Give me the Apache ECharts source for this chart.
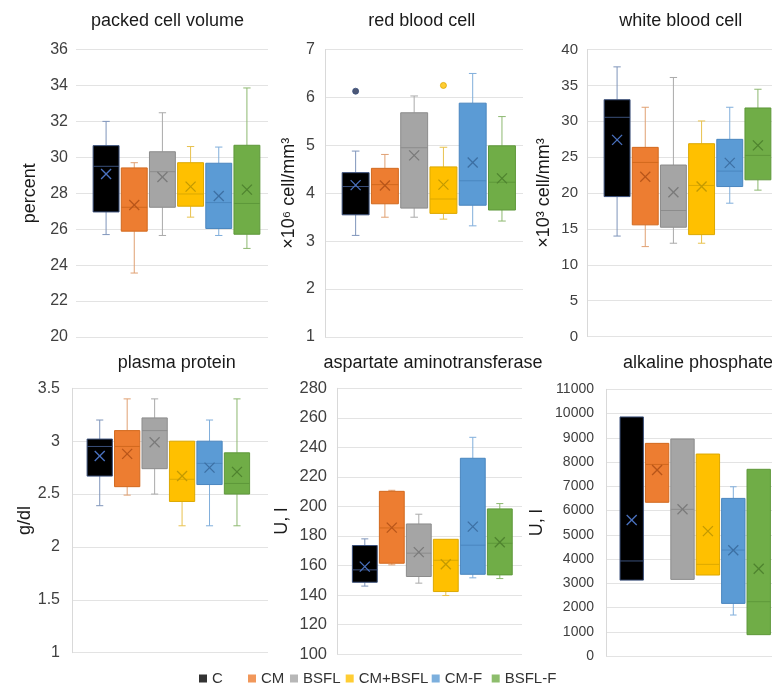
<!DOCTYPE html>
<html>
<head>
<meta charset="utf-8">
<script src="https://cdn.jsdelivr.net/npm/echarts@6/dist/echarts.min.js"></script>
<style>
html, body { margin: 0; padding: 0; background: #fff; }
#chart { width: 772px; height: 688px; }
</style>
</head>
<body>
<div id="chart"></div>
<script>
const groups = ['C', 'CM', 'BSFL', 'CM+BSFL', 'CM-F', 'BSFL-F'];

// each row: [min, Q1, median, Q3, max]
const pcvBox = [
  [25.7, 26.96, 29.5, 30.65, 32.0],
  [23.56, 25.89, 27.22, 29.41, 29.7],
  [25.65, 27.22, 29.2, 30.31, 32.48],
  [26.67, 27.28, 27.96, 29.7, 30.6],
  [25.65, 26.04, 27.48, 29.67, 30.57],
  [24.93, 25.72, 27.43, 30.67, 33.86]
];
const pcvMean = [29.07, 27.35, 28.9, 28.37, 27.85, 28.2];

const rbcBox = [
  [3.12, 3.55, 4.14, 4.43, 4.88],
  [3.5, 3.78, 4.18, 4.52, 4.81],
  [3.5, 3.69, 4.95, 5.68, 6.03],
  [3.46, 3.58, 3.88, 4.55, 4.96],
  [3.32, 3.75, 4.26, 5.88, 6.5],
  [3.42, 3.65, 4.23, 4.99, 5.6]
];
const rbcMean = [4.17, 4.16, 4.79, 4.18, 4.64, 4.31];
const rbcOutliers = [[0, 6.13], [3, 6.25]];

const wbcBox = [
  [14.0, 19.5, 30.55, 33.0, 37.58],
  [12.53, 15.56, 24.26, 26.36, 31.95],
  [13.0, 15.23, 17.56, 23.9, 36.1],
  [13.0, 14.2, 21.05, 26.87, 30.04],
  [18.58, 20.9, 23.05, 27.48, 31.95],
  [20.4, 21.84, 25.24, 31.85, 34.46]
];
const wbcMean = [27.4, 22.26, 20.1, 20.9, 24.2, 26.64];

const ppBox = [
  [2.39, 2.67, 2.95, 3.02, 3.2],
  [2.49, 2.57, 2.95, 3.1, 3.4],
  [2.5, 2.74, 3.1, 3.22, 3.4],
  [2.2, 2.43, 2.64, 3.0, 3.0],
  [2.2, 2.59, 2.79, 3.0, 3.2],
  [2.2, 2.5, 2.6, 2.89, 3.4]
];
const ppMean = [2.86, 2.88, 2.99, 2.67, 2.75, 2.71];

const astBox = [
  [146, 148.6, 157, 173.5, 178],
  [160.4, 161.5, 185.4, 210.2, 210.9],
  [148, 152.5, 168.3, 188.1, 194.7],
  [139.6, 142.3, 163.5, 177.7, 178],
  [151.6, 154, 173.7, 232.6, 246.8],
  [151.1, 153.6, 175, 198.3, 201.9]
];
const astMean = [159.2, 185.6, 169, 160.8, 186.3, 175.7];

const alpBox = [
  [3130, 3130, 3920, 9860, 9860],
  [6340, 6340, 7900, 8770, 8770],
  [3160, 3160, 6050, 8950, 8950],
  [3340, 3340, 3780, 8330, 8330],
  [1690, 2170, 4370, 6500, 6980],
  [880, 880, 2240, 7700, 7700]
];
const alpMean = [5610, 7670, 6050, 5150, 4360, 3600];

const titles = ['packed cell volume', 'red blood cell', 'white blood cell',
  'plasma protein', 'aspartate aminotransferase', 'alkaline phosphate'];
const units = ['percent', '×10⁶ cell/mm³', '×10³ cell/mm³', 'g/dl', 'U, l', 'U, l'];
const yMin = [20, 1, 0, 1, 100, 0];
const yMax = [36, 7, 40, 3.5, 280, 11000];
const yStep = [2, 1, 5, 0.5, 20, 1000];

const boxes = [pcvBox, rbcBox, wbcBox, ppBox, astBox, alpBox];
const means = [pcvMean, rbcMean, wbcMean, ppMean, astMean, alpMean];
const outliers = [[], rbcOutliers, [], [], [], []];

// colours: box fill, box edge / median, whisker, mean cross
const fillColors = ['#000000', '#ED7D31', '#A5A5A5', '#FFC000', '#5B9BD5', '#70AD47'];
const edgeColors = ['#3a4f7a', '#d2691e', '#8c8c8c', '#dca800', '#4a86bf', '#5e983a'];
const whiskerColors = ['#7f95bb', '#e0a072', '#aaaaaa', '#e8c24e', '#80aedb', '#8db870'];
const meanColors = ['#4a72c0', '#b8561a', '#7a7a7a', '#c49a00', '#3d70a3', '#4f832f'];

// layout (pixels)
const gridTop = [49.5, 49.5, 49.5, 388.3, 388.3, 389.3];
const gridHeight = [287.5, 287.5, 287, 264.4, 265.7, 266.7];
const frameLeft = [76, 325, 587, 72, 337, 606];
const frameWidth = [192, 198, 185, 196, 185, 166];
const boxLeft = [92, 341, 603, 86, 351.3, 619];
const boxWidth = [169, 175.6, 169, 164.7, 162, 152.4];
const labelSize = [16, 16, 15, 16, 16.5, 14];
const labelMargin = [8, 10, 9, 12, 10, 12];
const nameGap = [37, 27, 34, 37, 46, 60];
const axisLineShow = [false, true, true, true, true, true];
const titlePos = [[167.5, 21], [421.7, 21], [680.8, 21], [176.7, 363], [433, 363], [698, 363]];
const legendLeft = [199, 248, 290, 345.7, 431.7, 491.7];

const FONT = '"Liberation Sans", Arial, Helvetica, sans-serif';

function renderBox(params, api) {
  const i = api.value(0);
  const x = api.coord([i, 0])[0];
  const band = api.size([1, 0])[0];
  const hw = band * 0.46;
  const cw = band * 0.13;
  const py = k => api.coord([i, api.value(k)])[1];
  const yLo = py(1), yQ1 = py(2), yMed = py(3), yQ3 = py(4), yHi = py(5), yMean = py(6);
  const wStyle = { stroke: whiskerColors[i], lineWidth: 1 };
  const kids = [];
  if (yHi < yQ3 - 0.5) {
    kids.push({ type: 'line', shape: { x1: x, y1: yHi, x2: x, y2: yQ3 }, style: wStyle });
    kids.push({ type: 'line', shape: { x1: x - cw, y1: yHi, x2: x + cw, y2: yHi }, style: wStyle });
  }
  if (yLo > yQ1 + 0.5) {
    kids.push({ type: 'line', shape: { x1: x, y1: yQ1, x2: x, y2: yLo }, style: wStyle });
    kids.push({ type: 'line', shape: { x1: x - cw, y1: yLo, x2: x + cw, y2: yLo }, style: wStyle });
  }
  kids.push({
    type: 'rect',
    shape: { x: x - hw, y: yQ3, width: hw * 2, height: yQ1 - yQ3 },
    style: { fill: fillColors[i], stroke: edgeColors[i], lineWidth: 1 }
  });
  kids.push({
    type: 'line', shape: { x1: x - hw, y1: yMed, x2: x + hw, y2: yMed },
    style: { stroke: edgeColors[i], lineWidth: 1 }
  });
  const m = 5;
  const mStyle = { stroke: meanColors[i], lineWidth: 1.3 };
  kids.push({ type: 'line', shape: { x1: x - m, y1: yMean - m, x2: x + m, y2: yMean + m }, style: mStyle });
  kids.push({ type: 'line', shape: { x1: x - m, y1: yMean + m, x2: x + m, y2: yMean - m }, style: mStyle });
  return { type: 'group', children: kids };
}

const grid = [], xAxis = [], yAxis = [], series = [], graphic = [];

for (let p = 0; p < 6; p++) {
  const frame = p * 2, inner = p * 2 + 1;
  grid.push({ left: frameLeft[p], top: gridTop[p], width: frameWidth[p], height: gridHeight[p] });
  grid.push({ left: boxLeft[p], top: gridTop[p], width: boxWidth[p], height: gridHeight[p] });

  xAxis.push({ type: 'value', gridIndex: frame, show: false });
  xAxis.push({ type: 'category', gridIndex: inner, data: groups, show: false });

  yAxis.push({
    type: 'value', gridIndex: frame,
    min: yMin[p], max: yMax[p], interval: yStep[p],
    name: units[p], nameLocation: 'middle', nameRotate: 90, nameGap: nameGap[p],
    nameTextStyle: { fontSize: 18, color: '#1a1a1a', fontFamily: FONT },
    axisLine: { show: axisLineShow[p], lineStyle: { color: '#d9d9d9' } },
    axisTick: { show: false },
    axisLabel: { fontSize: labelSize[p], color: '#404040', fontFamily: FONT, margin: labelMargin[p],
      formatter: v => String(v) },
    splitLine: { lineStyle: { color: '#e3e3e3' } }
  });
  yAxis.push({ type: 'value', gridIndex: inner, min: yMin[p], max: yMax[p], show: false, splitLine: { show: false } });

  series.push({
    type: 'custom',
    xAxisIndex: inner, yAxisIndex: inner,
    renderItem: renderBox,
    encode: { x: 0, y: [1, 2, 3, 4, 5, 6] },
    data: boxes[p].map((b, i) => [i].concat(b, [means[p][i]])),
    silent: true,
    z: 3
  });
  if (outliers[p].length) {
    series.push({
      type: 'scatter',
      xAxisIndex: inner, yAxisIndex: inner,
      symbolSize: 6,
      data: outliers[p].map(o => ({
        value: o,
        itemStyle: { color: o[0] === 0 ? '#1f2d52' : fillColors[o[0]], borderColor: edgeColors[o[0]], borderWidth: 1 }
      })),
      silent: true,
      z: 4
    });
  }

  graphic.push({
    type: 'text', x: titlePos[p][0], y: titlePos[p][1],
    style: { text: titles[p], font: '18px ' + FONT, fill: '#1a1a1a', textAlign: 'center', textVerticalAlign: 'middle' }
  });
}

// empty series that only give the legend its colours
groups.forEach((g, i) => {
  series.push({ type: 'scatter', name: g, data: [], xAxisIndex: 1, yAxisIndex: 1, itemStyle: { color: fillColors[i] } });
});

const legend = groups.map((g, i) => ({
  data: [g], left: legendLeft[i], top: 671,
  icon: 'rect', itemWidth: 8, itemHeight: 8, padding: 0,
  selectedMode: false,
  textStyle: { fontSize: 15, color: '#333', fontFamily: FONT }
}));

const chart = echarts.init(document.getElementById('chart'));
chart.setOption({
  animation: false,
  backgroundColor: '#fff',
  grid: grid,
  xAxis: xAxis,
  yAxis: yAxis,
  legend: legend,
  graphic: graphic,
  series: series
});
</script>
</body>
</html>
